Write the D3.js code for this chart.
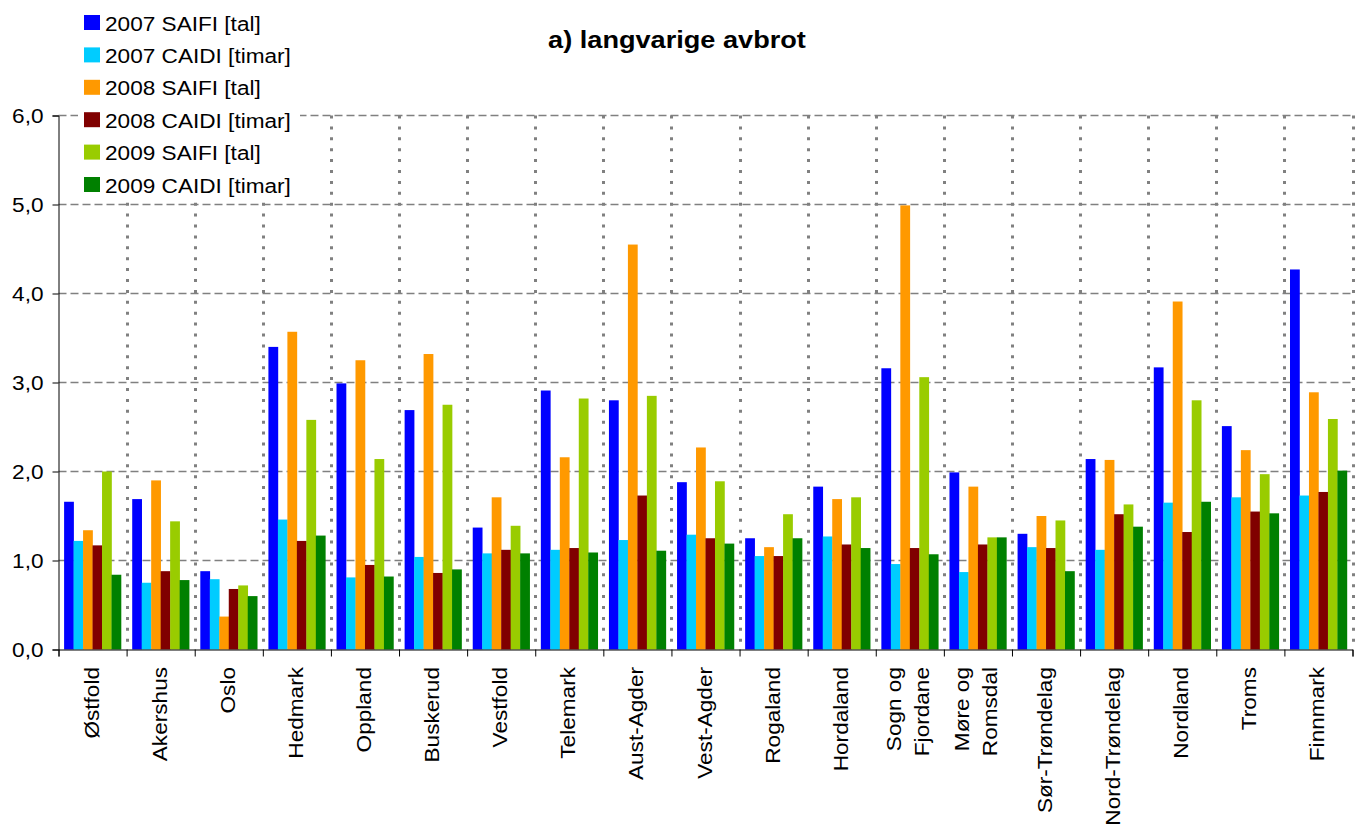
<!DOCTYPE html>
<html>
<head>
<meta charset="utf-8">
<script src="https://cdn.jsdelivr.net/npm/d3@7"></script>
<style>
  html, body { margin: 0; padding: 0; background: #fff; }
  svg { display: block; }
  text { font-family: "Liberation Sans", Arial, Helvetica, sans-serif; fill: #000; }
</style>
</head>
<body>
<svg id="chart" width="1366" height="838"></svg>
<script>
// ---- data ----
const categories = ["Østfold", "Akershus", "Oslo", "Hedmark", "Oppland", "Buskerud", "Vestfold",
  "Telemark", "Aust-Agder", "Vest-Agder", "Rogaland", "Hordaland", "Sogn og\nFjordane",
  "Møre og\nRomsdal", "Sør-Trøndelag", "Nord-Trøndelag", "Nordland", "Troms", "Finnmark"];

const seriesNames = ["2007 SAIFI [tal]", "2007 CAIDI [timar]", "2008 SAIFI [tal]",
  "2008 CAIDI [timar]", "2009 SAIFI [tal]", "2009 CAIDI [timar]"];

const saifi2007 = [1.66, 1.69, 0.88, 3.40, 2.99, 2.69, 1.37, 2.91, 2.80, 1.88, 1.25, 1.83, 3.16, 1.99, 1.30, 2.14, 3.17, 2.51, 4.27];
const caidi2007 = [1.22, 0.75, 0.79, 1.46, 0.81, 1.04, 1.08, 1.12, 1.23, 1.29, 1.05, 1.27, 0.96, 0.87, 1.15, 1.12, 1.65, 1.71, 1.73];
const saifi2008 = [1.34, 1.90, 0.37, 3.57, 3.25, 3.32, 1.71, 2.16, 4.55, 2.27, 1.15, 1.69, 4.99, 1.83, 1.50, 2.13, 3.91, 2.24, 2.89];
const caidi2008 = [1.17, 0.88, 0.68, 1.22, 0.95, 0.86, 1.12, 1.14, 1.73, 1.25, 1.05, 1.18, 1.14, 1.18, 1.14, 1.52, 1.32, 1.55, 1.77];
const saifi2009 = [2.00, 1.44, 0.72, 2.58, 2.14, 2.75, 1.39, 2.82, 2.85, 1.89, 1.52, 1.71, 3.06, 1.26, 1.45, 1.63, 2.80, 1.97, 2.59];
const caidi2009 = [0.84, 0.78, 0.60, 1.28, 0.82, 0.90, 1.08, 1.09, 1.11, 1.19, 1.25, 1.14, 1.07, 1.26, 0.88, 1.38, 1.66, 1.53, 2.01];

const yTicks = [0, 1, 2, 3, 4, 5, 6];
const titleText = "a) langvarige avbrot";

// ---- styles ----
const colors = ["#0000FF", "#00CCFF", "#FF9900", "#800000", "#99CC00", "#008000"];
const seriesValues = [saifi2007, caidi2007, saifi2008, caidi2008, saifi2009, caidi2009];
const STRETCH = 1.13;

const svg = d3.select("#chart");
const pL = 58.5, pR = 1352.5, pT = 115.5, pB = 649.5;

const x0 = d3.scaleBand().domain(d3.range(categories.length)).range([pL, pR]).padding(0);
const x1 = d3.scaleBand().domain(d3.range(seriesNames.length))
  .range([5.6, x0.bandwidth() - 5.6]).padding(0);
const y = d3.scaleLinear().domain([0, 6]).range([pB, pT]);
const xb = d3.scaleLinear().domain([0, categories.length]).range([pL, pR]);

function stretch(sel) {
  sel.each(function () {
    const len = this.getComputedTextLength();
    d3.select(this).attr("textLength", len * STRETCH).attr("lengthAdjust", "spacingAndGlyphs");
  });
}

// horizontal dashed grid
svg.append("g").selectAll("line").data(yTicks.slice(1)).join("line")
  .attr("x1", pL).attr("x2", pR)
  .attr("y1", d => y(d)).attr("y2", d => y(d))
  .attr("stroke", "#808080").attr("stroke-width", 1.3).attr("stroke-dasharray", "8,4");

// vertical dotted grid at category boundaries
svg.append("g").selectAll("line").data(d3.range(1, categories.length + 1)).join("line")
  .attr("x1", d => Math.round(xb(d)) + 0.5).attr("x2", d => Math.round(xb(d)) + 0.5)
  .attr("y1", pT).attr("y2", pB)
  .attr("stroke", "#808080").attr("stroke-width", 3).attr("stroke-dasharray", "3,7.9");

// bars
const groups = svg.append("g").selectAll("g").data(categories).join("g")
  .attr("transform", (d, i) => `translate(${x0(i)},0)`);
groups.selectAll("rect")
  .data((d, i) => seriesValues.map((vals, s) => ({ s, v: vals[i] })))
  .join("rect")
  .attr("x", d => x1(d.s))
  .attr("width", x1.bandwidth() + 0.3)
  .attr("y", d => y(d.v))
  .attr("height", d => y(0) - y(d.v))
  .attr("fill", d => colors[d.s]);

// y axis
const yAxis = d3.axisLeft(y).tickValues(yTicks).tickSize(6).tickPadding(9)
  .tickFormat(d => d3.format(".1f")(d).replace(".", ","));
const gy = svg.append("g").attr("transform", `translate(${pL},0)`).call(yAxis);
gy.select(".domain").attr("stroke", "#000");
gy.selectAll(".tick line").attr("stroke", "#000");
gy.selectAll(".tick text").attr("font-size", 20).attr("font-family", "Liberation Sans, Arial, sans-serif")
  .attr("fill", "#000").attr("dy", "0.36em").call(stretch);

// x axis line + boundary ticks
const xAxis = d3.axisBottom(xb).tickValues(d3.range(0, categories.length + 1)).tickSize(7).tickFormat("");
const gx = svg.append("g").attr("transform", `translate(0,${pB})`).call(xAxis);
gx.select(".domain").attr("stroke", "#000");
gx.selectAll(".tick line").attr("stroke", "#000");

// category labels (rotated)
const labels = svg.append("g").selectAll("text").data(categories).join("text")
  .attr("transform", (d, i) => `translate(${x0(i) + x0.bandwidth() / 2},667) rotate(-90)`)
  .attr("text-anchor", "end")
  .attr("font-size", 20);
labels.each(function (d) {
  const lines = d.split("\n");
  const t = d3.select(this);
  const offs = lines.length === 1 ? [6] : [-9, 19.5];
  lines.forEach((ln, k) => {
    t.append("tspan").attr("x", 0).attr("y", offs[k]).text(ln);
  });
});
labels.selectAll("tspan").call(stretch);

// legend (white box covering grid)
const legend = svg.append("g");
legend.append("rect").attr("x", 78).attr("y", 0).attr("width", 222).attr("height", 201).attr("fill", "#fff");
const li = legend.selectAll("g").data(seriesNames).join("g")
  .attr("transform", (d, i) => `translate(84,${15 + i * 32.4})`);
li.append("rect").attr("width", 16).attr("height", 15).attr("fill", (d, i) => colors[i]);
li.append("text").attr("x", 21).attr("y", 15.5).attr("font-size", 20).text(d => d).call(stretch);

// title
svg.append("text").attr("x", 677).attr("y", 48).attr("text-anchor", "middle")
  .attr("font-size", 24).attr("font-weight", "bold").text(titleText).call(stretch);
</script>
</body>
</html>
